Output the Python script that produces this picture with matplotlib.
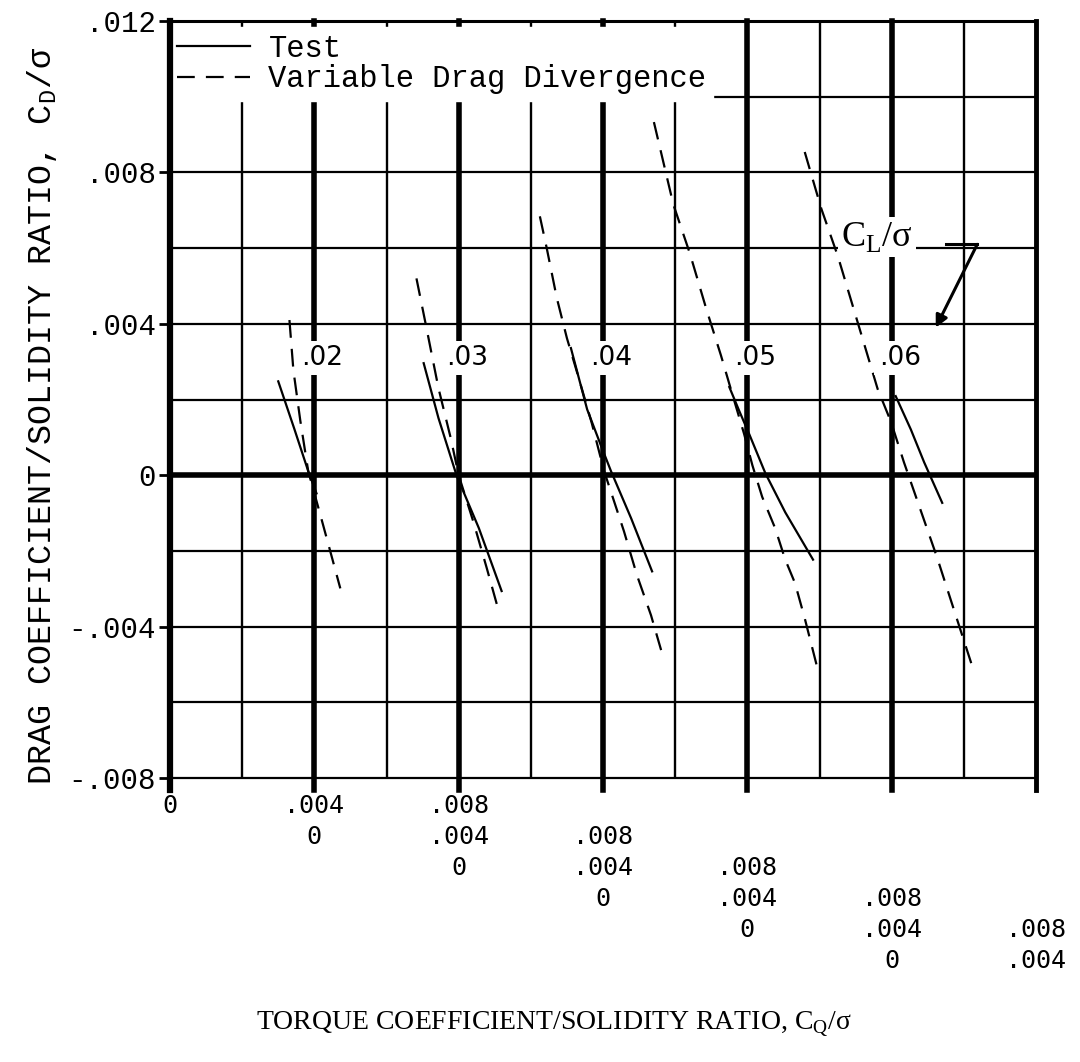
import numpy as np
import matplotlib.pyplot as plt
import matplotlib.transforms as mtransforms

# C_L/sigma families; each one is drawn on its own C_Q/sigma scale, shifted by .004
cl_sigma = ['.02', '.03', '.04', '.05', '.06']
cq_shift = [0.004, 0.008, 0.012, 0.016, 0.020]

# Test curves (C_Q/sigma on the family's own scale, C_D/sigma)
test_cq = [
    [-0.00100, -0.00056, -0.00017, 0.00006],
    [-0.00097, -0.00056, -0.00006, 0.00056, 0.00119],
    [-0.00089, -0.00044, -0.00006, 0.00022, 0.00078, 0.00136],
    [-0.00050, -0.00023, 0.00005, 0.00050, 0.00105, 0.00182],
    [0.00011, 0.00053, 0.00090, 0.00140],
]
test_cd = [
    [0.00248, 0.00124, 0.00011, -0.00048],
    [0.00296, 0.00151, 0.0, -0.00140, -0.00306],
    [0.00336, 0.00174, 0.00079, 0.00011, -0.00114, -0.00254],
    [0.00233, 0.00171, 0.00109, 0.00005, -0.00098, -0.00223],
    [0.00209, 0.00121, 0.00034, -0.00073],
]

# Variable drag divergence curves
vdd_cq = [
    [-0.00069, -0.00058, -0.00039, -0.00017, 0.00017, 0.00047, 0.00072],
    [-0.00117, -0.00089, -0.00056, -0.00022, 0.0, 0.00042, 0.00078, 0.00111],
    [-0.00175, -0.00156, -0.00128, -0.00100, -0.00067, -0.00031, 0.00003,
     0.00058, 0.00094, 0.00133, 0.00161],
    [-0.00259, -0.00205, -0.00159, -0.00114, -0.00073, -0.00041, -0.00009,
     0.00014, 0.00041, 0.00077, 0.00105, 0.00132, 0.00159, 0.00195],
    [-0.00241, -0.00195, -0.00149, -0.00094, -0.00039, -0.00002, 0.00034,
     0.00080, 0.00126, 0.00172, 0.00228],
]
vdd_cd = [
    [0.00410, 0.00277, 0.00145, 0.00011, -0.00106, -0.00211, -0.00299],
    [0.00520, 0.00388, 0.00230, 0.00098, 0.0, -0.00127, -0.00246, -0.00359],
    [0.00684, 0.00600, 0.00468, 0.00362, 0.00256, 0.00137, 0.00011,
     -0.00148, -0.00264, -0.00370, -0.00462],
    [0.00933, 0.00715, 0.00585, 0.00440, 0.00316, 0.00212, 0.00109,
     0.00026, -0.00057, -0.00140, -0.00223, -0.00285, -0.00378, -0.00513],
    [0.00854, 0.00704, 0.00578, 0.00403, 0.00228, 0.00141, 0.00034,
     -0.00092, -0.00218, -0.00354, -0.00519],
]

ytick_vals = [-0.008, -0.004, 0.0, 0.004, 0.008, 0.012]
ytick_text = ['-.008', '-.004', '0', '.004', '.008', '.012']
scale_text = ['0', '.004', '.008']
n_scale_rows = 6

mono = 'Liberation Mono'

fig = plt.figure(figsize=(10.8, 10.62), dpi=100)
ax = fig.add_axes([0.1574, 0.2674, 0.8019, 0.7128])
ax.set_xlim(0, 0.024)
ax.set_ylim(-0.008, 0.012)

# hand-ruled grid: heavy lines every .004, light every .002
for i, gx in enumerate(np.arange(0.002, 0.0239, 0.002)):
    if i % 2 == 1:
        ax.axvline(gx, ymin=-0.016, ymax=1, color='k', lw=4, zorder=1, clip_on=False)
    else:
        ax.axvline(gx, color='k', lw=1.7, zorder=1)
for gy in np.arange(-0.006, 0.0119, 0.002):
    ax.axhline(gy, color='k', lw=4 if abs(gy) < 1e-9 else 1.6, zorder=1)
ax.axvline(0, ymin=-0.016, ymax=1, color='k', lw=4.5, zorder=6, clip_on=False)
ax.axvline(0.024, ymin=-0.016, ymax=1, color='k', lw=3.5, zorder=6, clip_on=False)
ax.spines['left'].set_visible(False)
ax.spines['right'].set_visible(False)
ax.spines['top'].set_linewidth(2.2)
ax.spines['bottom'].set_linewidth(1.6)

ax.set_xticks([])
ax.set_yticks(ytick_vals)
ax.set_yticklabels(ytick_text, fontfamily=mono, fontsize=21)
ax.tick_params(axis='y', direction='out', length=8, width=2, pad=2)

for k in range(len(cl_sigma)):
    ax.plot(np.array(test_cq[k]) + cq_shift[k], test_cd[k], color='k', lw=1.6,
            zorder=3, label='Test' if k == 0 else None)
    ax.plot(np.array(vdd_cq[k]) + cq_shift[k], vdd_cd[k], color='k', lw=1.6,
            ls=(0, (8, 5)), zorder=3,
            label='Variable Drag Divergence' if k == 0 else None)
    ax.text(cq_shift[k] - 0.00036, 0.0031, cl_sigma[k], fontfamily='DejaVu Sans',
            fontsize=19, ha='left', va='center', zorder=4,
            bbox=dict(facecolor='white', edgecolor='none', pad=3))

# C_L/sigma callout
ax.text(0.0196, 0.0063, 'C$_{\\mathregular{L}}$/σ', fontfamily='Liberation Serif',
        fontsize=26, ha='center', va='center', zorder=4,
        bbox=dict(facecolor='white', edgecolor='none', pad=2))
ax.plot([0.0215, 0.02237], [0.0061, 0.0061], color='k', lw=2.2, zorder=5)
ax.annotate('', xy=(0.02122, 0.0039), xytext=(0.02237, 0.0061), zorder=5,
            arrowprops=dict(arrowstyle='-|>', color='k', lw=2.2,
                            mutation_scale=18, shrinkA=0, shrinkB=0))

ax.legend(loc='upper left', bbox_to_anchor=(0, 0.992), borderaxespad=0,
          frameon=True, fancybox=False, facecolor='white', edgecolor='white',
          framealpha=1, prop={'family': mono, 'size': 22}, handlelength=2.4,
          handletextpad=0.6, borderpad=0.22, labelspacing=0.02)

# staggered C_Q/sigma scales, one row per family
trans = mtransforms.blended_transform_factory(ax.transData, ax.transAxes)
for j in range(n_scale_rows):
    for m, s in enumerate(scale_text):
        pos = 0.004 * (j + m)
        if pos > 0.0241:
            continue
        ax.text(pos, -0.0365 - 0.041 * j, s, transform=trans, ha='center',
                va='center', fontfamily='DejaVu Sans Mono', fontsize=18, clip_on=False)

ax.set_ylabel('DRAG COEFFICIENT/SOLIDITY RATIO, C$_{\\mathregular{D}}$/σ',
              fontfamily=mono, fontsize=24)
ax.yaxis.set_label_coords(-0.128, 0.478)
fig.text(0.513, 0.035, 'TORQUE COEFFICIENT/SOLIDITY RATIO, C$_{\\mathregular{Q}}$/σ',
         fontfamily='Liberation Serif', fontsize=20, ha='center', va='center')

fig.savefig('out.png', dpi=100, facecolor='white')
